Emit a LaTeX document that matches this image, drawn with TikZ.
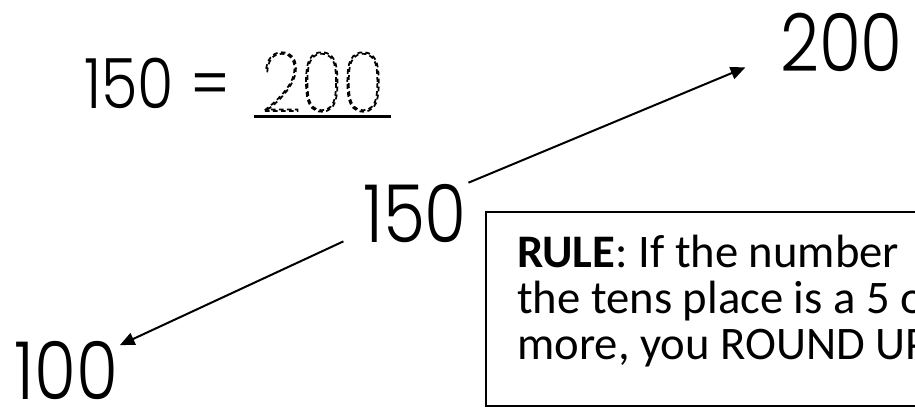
\documentclass[tikz,border=0pt]{standalone}
\usepackage{fontspec}
\usetikzlibrary{arrows.meta}

% thin geometric digits, a little narrowed
\IfFontExistsTF{Poppins Light}
  {\newfontfamily\digitfont{Poppins Light}[FakeStretch=0.85]}
  {\IfFontExistsTF{Poppins ExtraLight}
    {\newfontfamily\digitfont{Poppins ExtraLight}[FakeStretch=0.85]}
    {\newfontfamily\digitfont{Poppins}[FakeStretch=0.85]}}
\IfFontExistsTF{Poppins Thin}
  {\newfontfamily\tracefont{Poppins Thin}[FakeStretch=0.85]}
  {\IfFontExistsTF{Poppins ExtraLight}
    {\newfontfamily\tracefont{Poppins ExtraLight}[FakeStretch=0.85]}
    {\let\tracefont\digitfont}}
\newfontfamily\rulefont{Carlito}

% digits to trace over: outlined with a dashed pen
\newcommand\dashtext[1]{\special{pdf:literal 1 Tr 1.3 w [3.5 2.5] 0 d}#1\special{pdf:literal 0 Tr [] 0 d}}

\tikzset{
  num/.style={font=\digitfont\fontsize{60}{60}\selectfont, inner sep=1pt},
  arr/.style={line width=1.5pt, -{Triangle[length=11pt,width=9.5pt]}},
}

\begin{document}
\begin{tikzpicture}[x=0.75pt,y=-0.75pt]
\useasboundingbox (0,0) rectangle (915,414);
\clip (0,0) rectangle (915,414);

% the worked example
\node(eqleft) at (157,83.5) [font=\digitfont\fontsize{52}{52}\selectfont, inner sep=0pt] {150 =};
\node(eqans) at (322.5,82) [font=\tracefont\fontsize{62}{62}\selectfont, inner xsep=5pt, inner ysep=3.75pt] {\dashtext{200}};
\draw[line width=2.3pt] (eqans.south west) -- (eqans.south east);

% rounding to the nearest hundred
\node(mid) at (415,213.5) [num] {150};
\node(up) at (841.5,42.5) [num] {200};
\node(down) at (66.5,370) [num] {100};
\draw[arr, shorten >=27pt] (mid.north east) -- (up.190);
\draw[arr, shorten <=15pt] (mid.200) -- (down.25);

% the rule
\draw[line width=1.5pt, fill=white] (486,212) rectangle (960,406);
\node(rule) at (517,235) [anchor=north west, inner sep=0pt, align=left,
  font=\rulefont\fontsize{35}{34.5}\selectfont]
  {\textbf{RULE}: If the number\\the tens place is a 5 or\\more, you ROUND UP.};

\end{tikzpicture}
\end{document}
